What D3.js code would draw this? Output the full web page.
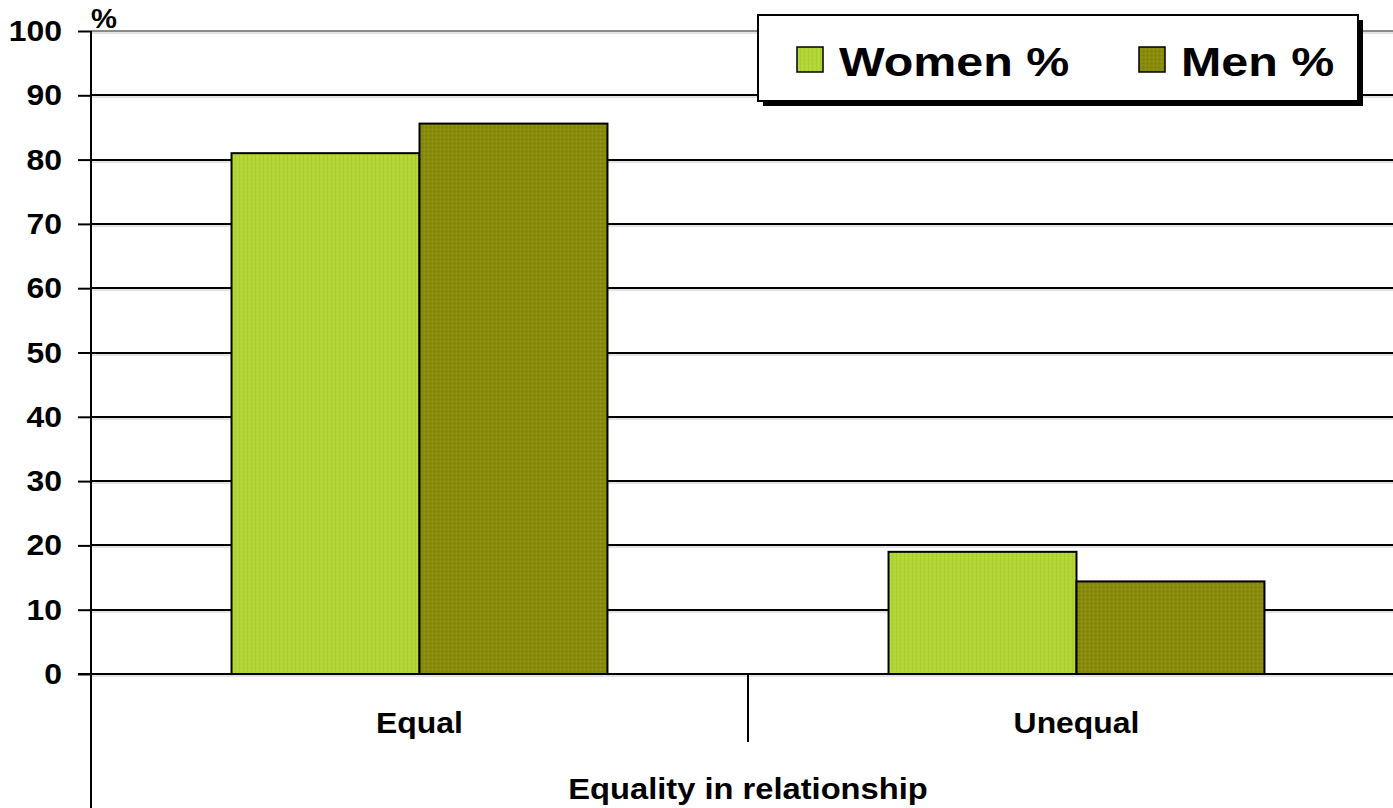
<!DOCTYPE html>
<html>
<head>
<meta charset="utf-8">
<script src="https://cdn.jsdelivr.net/npm/d3@7"></script>
<style>
  html, body { margin: 0; padding: 0; background: #fff; }
  svg { display: block; font-family: "Liberation Sans", Arial, sans-serif; font-weight: bold; }
</style>
</head>
<body>
<svg id="chart" width="1393" height="808"></svg>
<script>
// Share of respondents describing their relationship as equal / unequal
const categories = ["Equal", "Unequal"];
const seriesNames = ["Women %", "Men %"];
const womenValues = [81, 19];
const menValues = [85.6, 14.4];
const yTicks = [0, 10, 20, 30, 40, 50, 60, 70, 80, 90, 100];
const axisTitle = "Equality in relationship";
const unitLabel = "%";

const colors = { "Women %": "#b3d636", "Men %": "#878a0b" };

const svg = d3.select("#chart");
const W = 1393, H = 808;
const plotLeft = 91, plotTop = 31, zeroY = 674;
const plotRight = 1405; // the second category band runs past the right edge

const y = d3.scaleLinear().domain([0, 100]).range([zeroY, plotTop]);
const x0 = d3.scaleBand().domain(categories).range([plotLeft, plotRight]).padding(0);
const bw = x0.bandwidth();
const x1 = d3.scaleBand().domain(seriesNames).range([bw * 0.2139, bw * 0.7861]).padding(0);

const rows = categories.map((c, i) => ({
  cat: c,
  vals: [{ s: "Women %", v: womenValues[i] }, { s: "Men %", v: menValues[i] }]
}));

// texture patterns for the bar fills
const defs = svg.append("defs");
const pw = defs.append("pattern").attr("id", "pat-women").attr("patternUnits", "userSpaceOnUse")
  .attr("width", 4).attr("height", 4);
pw.append("rect").attr("width", 4).attr("height", 4).attr("fill", colors["Women %"]);
pw.append("rect").attr("x", 0).attr("width", 1).attr("height", 4).attr("fill", "#a9cc30");
pw.append("rect").attr("x", 2).attr("y", 1).attr("width", 1).attr("height", 1).attr("fill", "#bedd4a");
const pm = defs.append("pattern").attr("id", "pat-men").attr("patternUnits", "userSpaceOnUse")
  .attr("width", 4).attr("height", 4);
pm.append("rect").attr("width", 4).attr("height", 4).attr("fill", colors["Men %"]);
pm.append("rect").attr("x", 1).attr("y", 1).attr("width", 1).attr("height", 1).attr("fill", "#9a9d22");
pm.append("rect").attr("x", 3).attr("y", 3).attr("width", 1).attr("height", 1).attr("fill", "#7a7c05");
const patFor = { "Women %": "url(#pat-women)", "Men %": "url(#pat-men)" };

// gridlines with a faint shadow under each
const grid = svg.append("g");
yTicks.forEach(t => {
  const yy = Math.round(y(t));
  grid.append("line").attr("x1", plotLeft).attr("x2", W).attr("y1", yy + 2).attr("y2", yy + 2)
    .attr("stroke", "#c8c8c8").attr("stroke-width", 1);
  grid.append("line").attr("x1", plotLeft).attr("x2", W).attr("y1", yy).attr("y2", yy)
    .attr("stroke", t === 100 ? "#8a8a8a" : "#000").attr("stroke-width", 2);
});

// bars
const groups = svg.append("g").selectAll("g").data(rows).join("g")
  .attr("transform", d => `translate(${x0(d.cat)},0)`);
groups.selectAll("rect").data(d => d.vals).join("rect")
  .attr("x", d => x1(d.s))
  .attr("y", d => y(d.v))
  .attr("width", x1.bandwidth())
  .attr("height", d => zeroY - y(d.v))
  .attr("fill", d => patFor[d.s])
  .attr("stroke", "#000")
  .attr("stroke-width", 2);

// y axis
const yAxis = d3.axisLeft(y).tickValues(yTicks).tickSize(13).tickPadding(0).tickFormat(d3.format("d"));
const ya = svg.append("g").attr("transform", `translate(${plotLeft},0)`).call(yAxis);
ya.select(".domain").remove();
ya.selectAll(".tick line").attr("stroke", "#000").attr("stroke-width", 2);
ya.selectAll(".tick text").remove();
svg.append("line").attr("x1", plotLeft).attr("x2", plotLeft).attr("y1", plotTop).attr("y2", H)
  .attr("stroke", "#000").attr("stroke-width", 2);

// y tick labels, slightly widened
const tickLabels = svg.append("g");
yTicks.forEach(t => {
  tickLabels.append("text")
    .attr("transform", `translate(62,${y(t) + 10}) scale(1.1,1)`)
    .attr("text-anchor", "end")
    .attr("font-size", 29)
    .attr("fill", "#000")
    .text(t);
});

// unit label
svg.append("text").attr("transform", "translate(91,28) scale(1.08,1)")
  .attr("font-size", 27).attr("fill", "#000").text(unitLabel);

// x axis baseline and category divider
svg.append("line").attr("x1", 78).attr("x2", W).attr("y1", zeroY).attr("y2", zeroY)
  .attr("stroke", "#000").attr("stroke-width", 2);
categories.slice(1).forEach(c => {
  svg.append("line").attr("x1", x0(c)).attr("x2", x0(c)).attr("y1", zeroY).attr("y2", 742)
    .attr("stroke", "#000").attr("stroke-width", 2);
});

// category labels
categories.forEach(c => {
  svg.append("text")
    .attr("transform", `translate(${x0(c) + bw / 2},${733}) scale(1.1,1)`)
    .attr("text-anchor", "middle").attr("font-size", 29).attr("fill", "#000").text(c);
});

// axis title
svg.append("text")
  .attr("transform", `translate(748,799) scale(1.09,1)`)
  .attr("text-anchor", "middle").attr("font-size", 30).attr("fill", "#000").text(axisTitle);

// legend
const lg = svg.append("g");
lg.append("rect").attr("x", 763).attr("y", 20).attr("width", 600).attr("height", 86).attr("fill", "#000");
lg.append("rect").attr("x", 758).attr("y", 15).attr("width", 600).attr("height", 86)
  .attr("fill", "#fff").attr("stroke", "#000").attr("stroke-width", 2);
const legendPos = [{ s: "Women %", sx: 797, tx: 839 }, { s: "Men %", sx: 1139, tx: 1181 }];
legendPos.forEach(p => {
  lg.append("rect").attr("x", p.sx).attr("y", 47).attr("width", 26).attr("height", 25)
    .attr("fill", patFor[p.s]).attr("stroke", "#000").attr("stroke-width", 1.5);
  lg.append("text").attr("transform", `translate(${p.tx},76) scale(1.18,1)`)
    .attr("font-size", 41).attr("fill", "#000").text(p.s);
});
</script>
</body>
</html>
